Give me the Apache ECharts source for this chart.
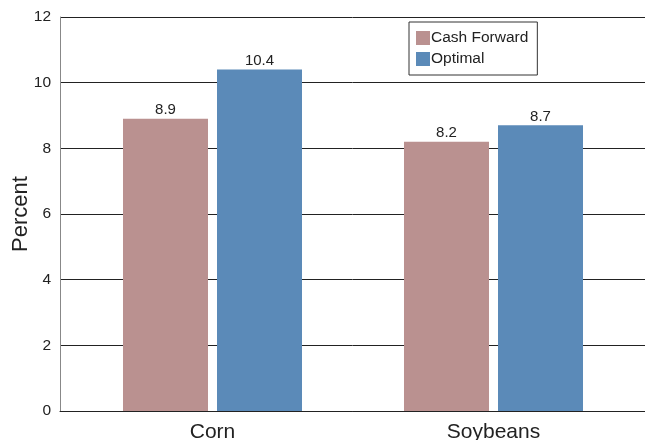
<!DOCTYPE html>
<html><head><meta charset="utf-8">
<script src="https://cdn.jsdelivr.net/npm/echarts@6/dist/echarts.min.js"></script>
<style>html,body{margin:0;padding:0;background:#fff}#c{width:645px;height:440px}</style>
</head><body><div id="c"></div>
<script>
const categories = ['Corn', 'Soybeans'];
const cashForward = [8.9, 8.2];
const optimal = [10.4, 8.7];
const yTicks = [0, 2, 4, 6, 8, 10, 12];
const yTitle = 'Percent';

const chart = echarts.init(document.getElementById('c'), null, {renderer: 'canvas'});
const font = 'Liberation Sans, Arial, sans-serif';
chart.setOption({
  animation: false,
  backgroundColor: '#fff',
  textStyle: {fontFamily: font},
  grid: [
    {left: 60, right: 0, top: 17, bottom: 29, outerBoundsMode: 'none', containLabel: false},
    {left: 72, right: 11, top: 17, bottom: 29, outerBoundsMode: 'none', containLabel: false}
  ],
  graphic: [{
    type: 'text', x: 21, y: 214, rotation: Math.PI / 2,
    style: {text: yTitle, fontSize: 22, fill: '#222', fontFamily: font,
      align: 'center', verticalAlign: 'middle'}
  }],
  legend: {
    orient: 'vertical', left: 409, top: 22,
    itemWidth: 14, itemHeight: 14, itemGap: 5,
    padding: [8, 9, 8, 7],
    borderColor: '#333', borderWidth: 1,
    icon: 'rect',
    textStyle: {fontSize: 15.5, color: '#222', fontFamily: font, padding: [0, 0, 0, -4]},
    data: ['Cash Forward', 'Optimal']
  },
  xAxis: [
    {gridIndex: 0, type: 'category', data: categories,
     axisLine: {show: true, lineStyle: {color: '#222', width: 1}},
     axisTick: {show: false}, axisLabel: {show: false}},
    {gridIndex: 1, type: 'category', data: categories,
     axisLine: {show: false}, axisTick: {show: false},
     axisLabel: {fontSize: 21, color: '#222', margin: 11, fontFamily: font}}
  ],
  yAxis: [
    {gridIndex: 0, type: 'value', min: 0, max: 12, interval: 2,
     axisLine: {show: true, lineStyle: {color: '#888', width: 1}},
     axisTick: {show: false},
     axisLabel: {fontSize: 15.5, color: '#222', margin: 9, fontFamily: font,
       formatter: v => yTicks.includes(v) ? String(v) : ''},
     splitLine: {show: true, lineStyle: {color: '#222', width: 1}}},
    {gridIndex: 1, type: 'value', min: 0, max: 12, interval: 2, show: false,
     splitLine: {show: false}}
  ],
  series: [
    {name: 'Cash Forward', type: 'bar', xAxisIndex: 1, yAxisIndex: 1,
     data: cashForward, barWidth: 85, barGap: '10.6%',
     itemStyle: {color: '#BA9190'},
     label: {show: true, position: 'top', distance: 1, fontSize: 15, color: '#222', fontFamily: font,
       formatter: p => p.value.toFixed(1)}},
    {name: 'Optimal', type: 'bar', xAxisIndex: 1, yAxisIndex: 1,
     data: optimal, barWidth: 85, barGap: '10.6%',
     itemStyle: {color: '#5B8AB8'},
     label: {show: true, position: 'top', distance: 1, fontSize: 15, color: '#222', fontFamily: font,
       formatter: p => p.value.toFixed(1)}}
  ]
});
</script></body></html>
